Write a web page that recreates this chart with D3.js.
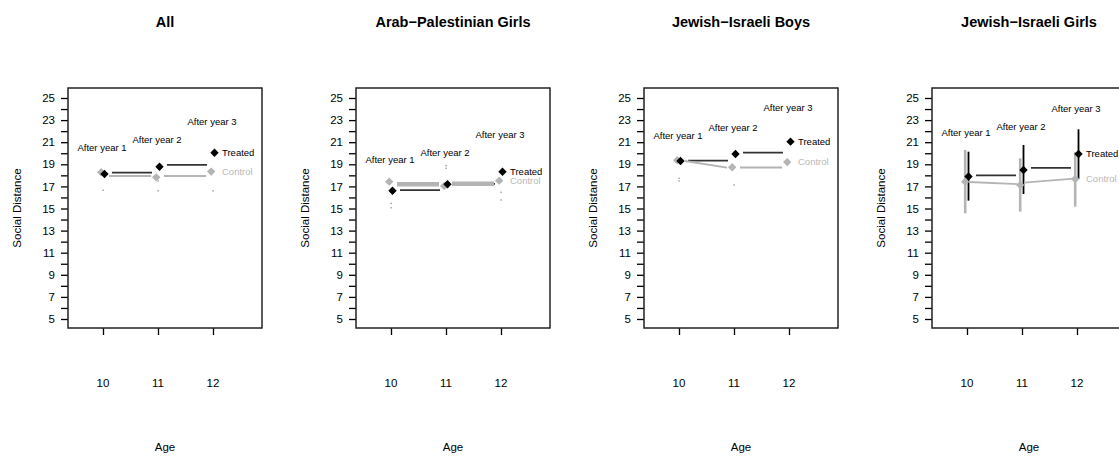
<!DOCTYPE html>
<html><head><meta charset="utf-8">
<script src="https://cdn.jsdelivr.net/npm/d3@7"></script>
<style>body{margin:0;background:#fff}svg{display:block}text{font-family:"Liberation Sans",Arial,Helvetica,sans-serif}</style>
</head><body>
<svg id="chart" width="1119" height="456"></svg>
<script>
// ---- data ----
const panelTitles = ["All", "Arab\u2212Palestinian Girls", "Jewish\u2212Israeli Boys", "Jewish\u2212Israeli Girls"];
const ages = [10, 11, 12];
const yTickValues = d3.range(5, 26, 1);
const yTickLabels = [5, 7, 9, 11, 13, 15, 17, 19, 21, 23, 25];
const periodLabels = ["After year 1", "After year 2", "After year 3"];
const treatedMeans = [[18.12, 18.78, 20.05], [16.61, 17.19, 18.33], [19.30, 19.93, 21.05], [17.89, 18.48, 19.93]];
const controlMeans = [[18.28, 17.82, 18.34], [17.43, 17.04, 17.52], [19.36, 18.73, 19.20], [17.43, 17.13, 17.67]];
// connecting segments (start / end values) between consecutive ages
const treatedSegs = [[[18.25, 18.25], [18.94, 18.94]], [[16.67, 16.67], [17.22, 17.22]], [[19.33, 19.33], [20.05, 20.05]], [[18.0, 18.0], [18.67, 18.67]]];
const controlSegs = [[[17.94, 17.94], [17.94, 17.94]], [[17.19, 17.19], [17.25, 17.25]], [[19.30, 18.70], [18.70, 18.70]], [[17.40, 17.20], [17.35, 17.70]]];
// confidence intervals (only visible in last panel)
const treatedLo = [null, null, null, [15.71, 16.31, 17.67]];
const treatedHi = [null, null, null, [20.14, 20.75, 22.17]];
const controlLo = [null, null, null, [14.56, 14.72, 15.17]];
const controlHi = [null, null, null, [20.30, 19.54, 20.10]];
// faint residual marks visible in first three panels
const faintMarks = [
  [[10, 16.65], [11, 16.6], [11, 17.5], [12, 16.6]],
  [[10, 15.47], [10, 15.07], [11, 18.88], [11, 18.64], [12, 16.47], [12, 15.77]],
  [[10, 17.73], [10, 17.49], [11, 17.13]],
  []
];
// annotation heights (in data units)
const periodLabelY = [[20.2, 20.93, 22.56], [19.12, 19.75, 21.38], [21.3, 22.04, 23.85], [21.56, 22.1, 23.7]];

// ---- drawing ----
const svg = d3.select("#chart");
const panelStep = 288;
const treatedColor = "#000", controlColor = "#b4b4b4", treatedLine = "#333";
const controlLineWidth = [2, 4.5, 2, 1.8];

function diamond(cx, cy, r) {
  return `M${cx},${cy - r}L${cx + r},${cy}L${cx},${cy + r}L${cx - r},${cy}Z`;
}

panelTitles.forEach((title, p) => {
  const off = p * panelStep;
  const g = svg.append("g");
  const boxL = 68 + off, boxR = 262 + off, boxT = 88, boxB = 328;
  const x = d3.scaleLinear().domain([10, 12]).range([103 + off, 213 + off]);
  const y = d3.scaleLinear().domain([5, 25]).range([319, 98]);
  const dT = 1.5, dC = -1.8;

  // title
  g.append("text").attr("x", (boxL + boxR) / 2).attr("y", 27).attr("text-anchor", "middle")
    .attr("font-size", 14.5).attr("font-weight", "bold").attr("fill", "#000").text(title);

  // y axis
  const yAxis = d3.axisLeft(y).tickValues(yTickValues).tickSize(7)
    .tickFormat(d => yTickLabels.includes(d) ? d : "");
  const ya = g.append("g").attr("transform", `translate(${boxL},0)`).call(yAxis);
  ya.select(".domain").remove();
  ya.selectAll(".tick line").attr("stroke", "#000").attr("stroke-width", 1.3);
  ya.selectAll(".tick text").attr("font-size", 11.5).attr("x", -13).attr("fill", "#000")
    .attr("font-family", '"Liberation Sans",Arial,sans-serif');

  // x axis
  const xAxis = d3.axisBottom(x).tickValues(ages).tickSize(7).tickFormat("");
  const xa = g.append("g").attr("transform", `translate(0,${boxB})`).call(xAxis);
  xa.select(".domain").remove();
  xa.selectAll(".tick line").attr("stroke", "#000").attr("stroke-width", 1.3);
  g.selectAll(".xlab").data(ages).enter().append("text")
    .attr("x", d => x(d)).attr("y", 387).attr("text-anchor", "middle").attr("font-size", 11.5)
    .attr("fill", "#000").text(d => d);

  // axis titles
  g.append("text").attr("transform", `translate(${21 + off},${(boxT + boxB) / 2}) rotate(-90)`)
    .attr("text-anchor", "middle").attr("font-size", 11.5).attr("fill", "#000").text("Social Distance");
  g.append("text").attr("x", (boxL + boxR) / 2).attr("y", 451).attr("text-anchor", "middle")
    .attr("font-size", 11.5).attr("fill", "#000").text("Age");

  // box
  g.append("rect").attr("x", boxL).attr("y", boxT).attr("width", boxR - boxL).attr("height", boxB - boxT)
    .attr("fill", "none").attr("stroke", "#222").attr("stroke-width", 1.5);

  // faint marks
  g.selectAll(".faint").data(faintMarks[p]).enter().append("rect")
    .attr("x", d => x(d[0]) - 0.5).attr("y", d => y(d[1]) - 0.7).attr("width", 1.2).attr("height", 1.4)
    .attr("fill", "#555").attr("opacity", 0.7);

  // error bars
  if (controlLo[p]) {
    g.selectAll(".ecC").data(ages).enter().append("line")
      .attr("x1", d => x(d) + dC).attr("x2", d => x(d) + dC)
      .attr("y1", (d, i) => y(controlLo[p][i])).attr("y2", (d, i) => y(controlHi[p][i]))
      .attr("stroke", controlColor).attr("stroke-width", 2.6);
  }
  if (treatedLo[p]) {
    g.selectAll(".ecT").data(ages).enter().append("line")
      .attr("x1", d => x(d) + dT).attr("x2", d => x(d) + dT)
      .attr("y1", (d, i) => y(treatedLo[p][i])).attr("y2", (d, i) => y(treatedHi[p][i]))
      .attr("stroke", treatedColor).attr("stroke-width", 1.8);
  }

  // connecting segments
  g.selectAll(".segT").data(treatedSegs[p]).enter().append("line")
    .attr("x1", (d, i) => x(ages[i]) + 9).attr("x2", (d, i) => x(ages[i + 1]) - 6)
    .attr("y1", d => y(d[0])).attr("y2", d => y(d[1]))
    .attr("stroke", treatedLine).attr("stroke-width", 1.8);
  g.selectAll(".segC").data(controlSegs[p]).enter().append("line")
    .attr("x1", (d, i) => x(ages[i]) + (p === 3 ? 2 : 6)).attr("x2", (d, i) => x(ages[i + 1]) - (p === 3 ? 3 : 7))
    .attr("y1", d => y(d[0])).attr("y2", d => y(d[1]))
    .attr("stroke", controlColor).attr("stroke-width", controlLineWidth[p]);

  // points
  g.selectAll(".ptC").data(controlMeans[p]).enter().append("path")
    .attr("d", (d, i) => diamond(x(ages[i]) + dC, y(d), 4.2)).attr("fill", controlColor);
  g.selectAll(".ptT").data(treatedMeans[p]).enter().append("path")
    .attr("d", (d, i) => diamond(x(ages[i]) + dT, y(d), 4.2)).attr("fill", treatedColor);

  // period labels
  g.selectAll(".per").data(periodLabels).enter().append("text")
    .attr("x", (d, i) => x(ages[i]) - 1).attr("y", (d, i) => y(periodLabelY[p][i]))
    .attr("text-anchor", "middle").attr("font-size", 9.5).attr("fill", "#000").text(d => d);

  // series labels
  g.append("text").attr("x", x(12) + 9).attr("y", y(treatedMeans[p][2])).attr("dy", "0.35em")
    .attr("font-size", 9.5).attr("fill", "#000").text("Treated");
  g.append("text").attr("x", x(12) + 9).attr("y", y(controlMeans[p][2])).attr("dy", "0.35em")
    .attr("font-size", 9.5).attr("fill", "#b8b8b8").text("Control");
});
</script>
</body></html>
